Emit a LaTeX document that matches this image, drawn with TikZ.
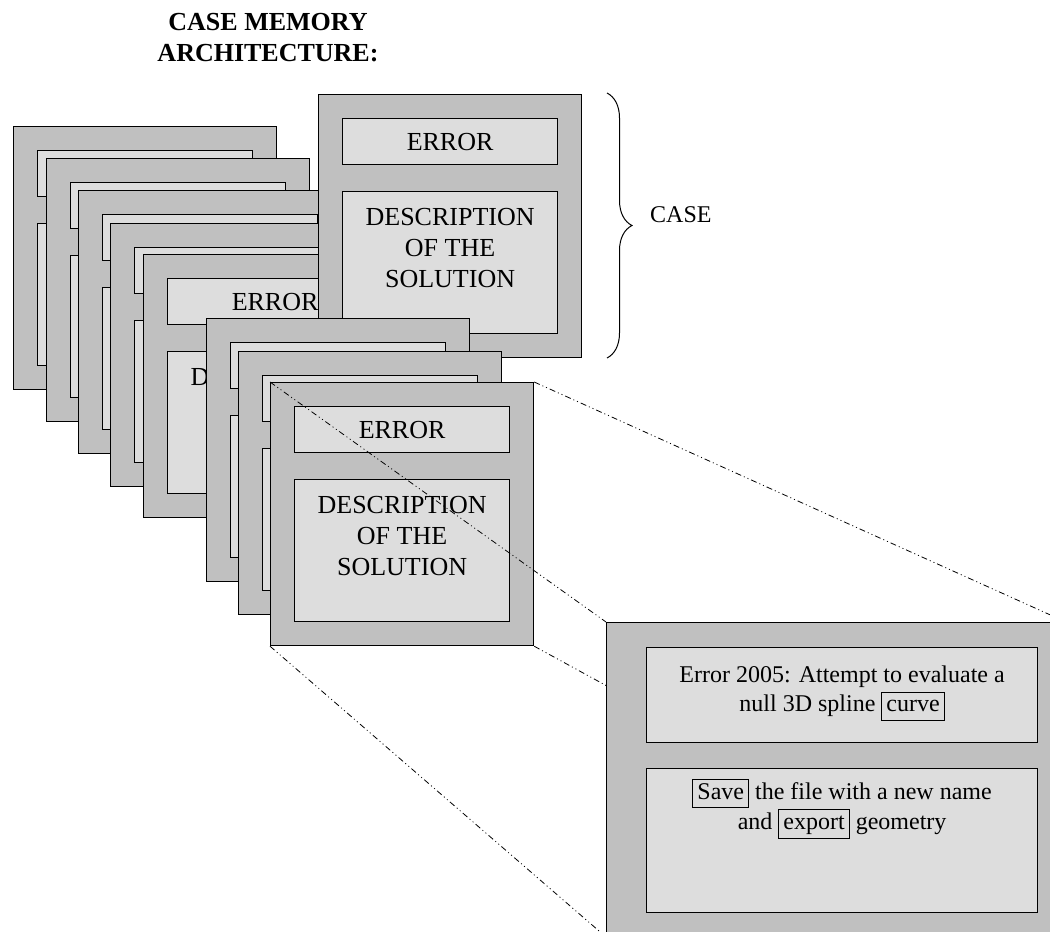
\documentclass[tikz,border=0pt]{standalone}
\usepackage{xcolor, fontspec}
\setmainfont{Liberation Serif}
\usepackage{tikz}
\usetikzlibrary{positioning, decorations.pathreplacing}

\definecolor{cardgray}{HTML}{C0C0C0}
\definecolor{boxgray}{HTML}{DDDDDD}

\setlength{\fboxsep}{3pt}
\setlength{\fboxrule}{1pt}
\newcommand{\wordbox}[1]{\fbox{\hspace{1pt}\vphantom{Sy}#1\hspace{1pt}}}

\newcommand{\cardframe}[2]{
	\node[card] (#1) at (#2) {};
	\node[errbox, below right=24pt and 24pt of #1.north west] (#1-e) {};
	\node[descbox, below=26pt of #1-e] (#1-d) {};
}
\newcommand{\cardtext}[1]{
	\node[cardtext] (#1-et) at (#1-e) {ERROR};
	\node[cardtext, below=17pt of #1-d.north] (#1-dt) {DESCRIPTION\\OF THE\\SOLUTION};
}

\begin{document}
\begin{tikzpicture}
	[
	x=1pt, y=-1pt,
	card/.style={draw, line width=1.2pt, fill=cardgray, anchor=north west,
		minimum width=263pt, minimum height=263pt, inner sep=0pt},
	errbox/.style={draw, line width=1.2pt, fill=boxgray, anchor=north west,
		minimum width=215pt, minimum height=46pt, inner sep=0pt},
	descbox/.style={draw, line width=1.2pt, fill=boxgray,
		minimum width=215pt, minimum height=142pt, inner sep=0pt},
	cardtext/.style={align=center, inner sep=0pt, font=\fontsize{26}{31}\selectfont},
	bigbox/.style={draw, line width=1.2pt, fill=boxgray, minimum width=391pt, inner sep=0pt},
	bigtext/.style={align=center, inner sep=0pt, font=\fontsize{24}{29}\selectfont},
	zoomline/.style={line width=0.8pt, dash pattern=on 6pt off 3pt on 1pt off 3pt on 1pt off 3pt},
	casebrace/.style={decorate, decoration={brace, amplitude=25pt}, line width=1pt},
	]
	\useasboundingbox (0,0) rectangle (1050,932);
	\clip (0,0) rectangle (1050,932);

	\node[align=center, inner sep=0pt, font=\bfseries\fontsize{26}{31}\selectfont] (title) at (268,38) {CASE MEMORY\\ARCHITECTURE:};

	\foreach \n/\px/\py in {1/13/126, 2/46/158, 3/78/190, 4/110/223}
		{\cardframe{c\n}{\px,\py}}
	\cardframe{c5}{143,254}
	\cardtext{c5}
	\cardframe{case}{318,94}
	\cardtext{case}
	\foreach \n/\px/\py in {6/206/318, 7/238/351}
		{\cardframe{c\n}{\px,\py}}
	\cardframe{c8}{270,382}
	\cardtext{c8}

	\coordinate (bracetop) at (607,93);
	\coordinate (bracebot) at (607,358);
	\draw[casebrace] (bracetop) -- (bracebot);
	\node[inner sep=0pt, anchor=west, font=\fontsize{24}{29}\selectfont] (caselabel) at (650,215) {CASE};

	\coordinate (z-nw) at (606,622);
	\coordinate (z-ne) at (1066,622);
	\coordinate (z-se) at (1066,937);
	\coordinate (z-sw) at (606,937);
	\draw[zoomline] (c8.north west) -- (z-nw);
	\draw[zoomline] (c8.north east) -- (z-ne);
	\draw[zoomline] (c8.south east) -- (z-se);
	\draw[zoomline] (c8.south west) -- (z-sw);

	\node[card, minimum width=460pt, minimum height=315pt] (big) at (z-nw) {};
	\node[bigbox, anchor=north west, minimum height=95pt, below right=25pt and 40pt of big.north west] (big-e) {};
	\node[bigbox, minimum height=144pt, below=25pt of big-e] (big-d) {};
	\node[bigtext, below=19pt of big-e.north] (big-et) {Error 2005: Attempt to evaluate a\\null 3D spline \wordbox{curve}};
	\node[bigtext, below=11pt of big-d.north] (big-dt) {\wordbox{Save} the file with a new name\\and \wordbox{export} geometry};
\end{tikzpicture}
\end{document}
